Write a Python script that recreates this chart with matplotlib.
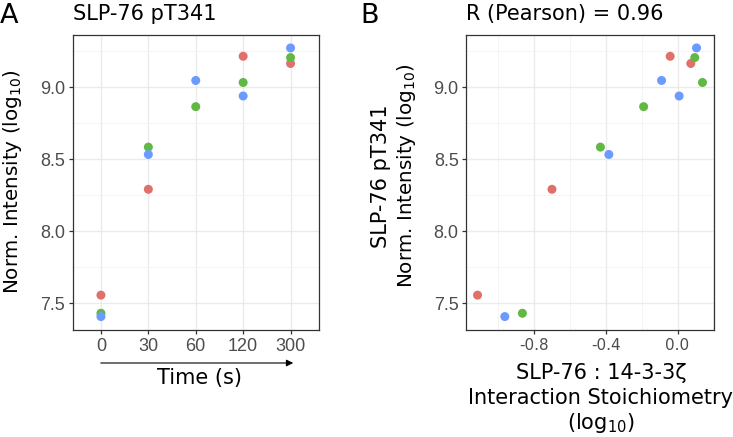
import matplotlib
matplotlib.use('Agg')
import matplotlib.pyplot as plt
import numpy as np
from matplotlib.ticker import MultipleLocator

# data (log10 values); red has no 60 s point
time_labels = ['0', '30', '60', '120', '300']
red_int = [7.557, 8.292, np.nan, 9.216, 9.166]
green_int = [7.431, 8.585, 8.866, 9.034, 9.207]
blue_int = [7.408, 8.534, 9.048, 8.940, 9.274]
red_sto = [-1.115, -0.700, np.nan, -0.041, 0.074]
green_sto = [-0.865, -0.430, -0.189, 0.139, 0.096]
blue_sto = [-0.963, -0.383, -0.089, 0.009, 0.106]
pearson_r = 0.96

colors = ['#E0716A', '#61B845', '#6C9BFF']
W, H = 733, 437

fig = plt.figure(figsize=(W / 100, H / 100), dpi=100)


def px_axes(x0, y0, x1, y1):
    return fig.add_axes([x0 / W, 1 - y1 / H, (x1 - x0) / W, (y1 - y0) / H])


def px_text(x, y, s, **kw):
    fig.text(x / W, 1 - y / H, s, **kw)


def expand(vals, f=0.05):
    v = np.array(vals, dtype=float)
    lo, hi = np.nanmin(v), np.nanmax(v)
    d = (hi - lo) * f
    return lo - d, hi + d


def style(ax, xfont, xsize, yfont, ysize):
    ax.set_facecolor('white')
    for sp in ax.spines.values():
        sp.set_color('#333333')
        sp.set_linewidth(0.9)
    ax.grid(which='major', color='#EBEBEB', lw=1.0, zorder=0)
    ax.grid(which='minor', color='#F2F2F2', lw=0.6, zorder=0)
    ax.set_axisbelow(True)
    ax.tick_params(which='major', length=3, width=0.9, color='#333333',
                   labelcolor='#4D4D4D', pad=2.5)
    ax.tick_params(which='minor', length=0)
    for lab in ax.get_xticklabels():
        lab.set_family(xfont)
        lab.set_fontsize(xsize)
    for lab in ax.get_yticklabels():
        lab.set_family(yfont)
        lab.set_fontsize(ysize)


all_int = red_int + green_int + blue_int
ylim = expand(all_int)
xlim_b = expand(red_sto + green_sto + blue_sto)

# ---------------- panel A
ax1 = px_axes(72.5, 34.5, 319, 330)
xpos = np.arange(len(time_labels))
for vals, c in zip([red_int, green_int, blue_int], colors):
    ax1.scatter(xpos, vals, s=42, color=c, edgecolors='none', zorder=3)
ax1.set_xlim(-0.6, len(time_labels) - 0.4)
ax1.set_ylim(*ylim)
ax1.set_xticks(xpos)
ax1.set_xticklabels(time_labels)
ax1.yaxis.set_major_locator(MultipleLocator(0.5))
ax1.yaxis.set_minor_locator(MultipleLocator(0.25))
ax1.set_yticks(ax1.get_yticks())
ax1.set_yticklabels([f'{t:.1f}' for t in ax1.get_yticks()])
style(ax1, 'Liberation Sans', 13, 'Liberation Sans', 13)
ax1.set_ylim(*ylim)

# ---------------- panel B
ax2 = px_axes(466.3, 34.5, 713.7, 330)
for sx, vals, c in zip([red_sto, green_sto, blue_sto],
                       [red_int, green_int, blue_int], colors):
    ax2.scatter(sx, vals, s=42, color=c, edgecolors='none', zorder=3)
ax2.set_xlim(*xlim_b)
ax2.set_ylim(*ylim)
ax2.xaxis.set_major_locator(MultipleLocator(0.4))
ax2.xaxis.set_minor_locator(MultipleLocator(0.2))
ax2.yaxis.set_major_locator(MultipleLocator(0.5))
ax2.yaxis.set_minor_locator(MultipleLocator(0.25))
ax2.set_xticks(ax2.get_xticks())
ax2.set_xticklabels([f'{t:.1f}' if abs(t) > 1e-9 else '0.0' for t in ax2.get_xticks()])
ax2.set_yticks(ax2.get_yticks())
ax2.set_yticklabels([f'{t:.1f}' for t in ax2.get_yticks()])
style(ax2, 'DejaVu Sans', 11, 'Liberation Sans', 13)
ax2.set_xlim(*xlim_b)
ax2.set_ylim(*ylim)

# ---------------- text
px_text(0, 16, 'A', fontsize=19.5, va='center', ha='left')
px_text(360, 16, 'B', fontsize=19.5, va='center', ha='left')
px_text(73, 14, 'SLP-76 pT341', fontsize=15, va='center', ha='left')
px_text(466, 14, f'R (Pearson) = {pearson_r:.2f}', fontsize=15, va='center', ha='left')

px_text(13, 182, 'Norm. Intensity (log$_{10}$)', fontsize=14.3, rotation=90,
        va='center', ha='center')
px_text(199, 378, 'Time (s)', fontsize=15, va='center', ha='center')
fig.add_artist(matplotlib.patches.FancyArrowPatch(
    (98 / W, 1 - 363 / H), (296 / W, 1 - 363 / H), transform=fig.transFigure,
    arrowstyle='-|>', mutation_scale=10, lw=0.8, color='black'))

px_text(381, 176, 'SLP-76 pT341', fontsize=15, rotation=90, va='center', ha='center')
px_text(406, 176, 'Norm. Intensity (log$_{10}$)', fontsize=14.3, rotation=90,
        va='center', ha='center')
px_text(601, 373, 'SLP-76 : 14-3-3\u03b6', fontsize=15, va='center', ha='center')
px_text(601, 398, 'Interaction Stoichiometry', fontsize=15, va='center', ha='center')
px_text(601, 423, '(log$_{10}$)', fontsize=15, va='center', ha='center')

fig.savefig('out.png', dpi=100, facecolor='white')
